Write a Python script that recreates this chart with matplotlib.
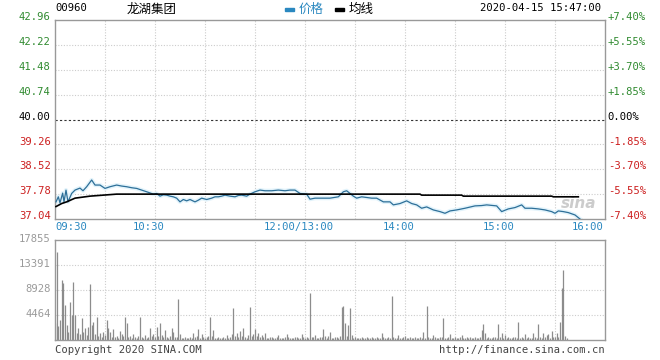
import matplotlib.pyplot as plt

plt.rcParams['font.family'] = ['DejaVu Sans Mono', 'Noto Sans CJK SC']

# --- data (x in trading minutes from 09:30, lunch break removed) ---
prev_close = 40.00
y_ticks = [37.04, 37.78, 38.52, 39.26, 40.00, 40.74, 41.48, 42.22, 42.96]
pct_labels = ['-7.40%', '-5.55%', '-3.70%', '-1.85%', '0.00%',
              '+1.85%', '+3.70%', '+5.55%', '+7.40%']
time_ticks = [0, 60, 150, 210, 270, 330]
time_labels = ['09:30', '10:30', '12:00/13:00', '14:00', '15:00', '16:00']

price_min = [0.6, 2, 3, 4.6, 5.4, 6.6, 7.8, 10, 12, 15, 16.8, 19, 22, 24, 27, 30,
             33, 37, 40, 43, 46, 49, 52, 55, 59, 61, 63, 65, 67, 69, 71, 73, 75,
             77, 79, 81, 84, 86, 88, 91, 94, 96, 98, 100, 102, 105, 108, 110, 112,
             115, 117, 120, 123, 126, 130, 134, 138, 141, 144, 147, 151, 153, 156,
             158, 162, 165, 170, 173, 175, 177, 179, 181, 184, 187, 190, 193, 197,
             201, 203, 207, 211, 214, 217, 220, 223, 227, 231, 234, 237, 241, 246,
             252, 256, 259, 265, 268, 272, 276, 280, 282, 286, 290, 294, 298, 300,
             302, 305, 308, 312, 315]
price_val = [37.55, 37.70, 37.52, 37.81, 37.55, 37.90, 37.55, 37.80, 37.90, 37.96,
             37.88, 38.00, 38.20, 38.05, 38.05, 37.95, 38.00, 38.05, 38.02, 38.00,
             37.97, 37.95, 37.90, 37.85, 37.78, 37.80, 37.72, 37.76, 37.75, 37.72,
             37.70, 37.66, 37.55, 37.62, 37.58, 37.62, 37.55, 37.60, 37.66, 37.62,
             37.66, 37.70, 37.70, 37.72, 37.75, 37.72, 37.70, 37.74, 37.75, 37.72,
             37.78, 37.85, 37.90, 37.88, 37.88, 37.90, 37.88, 37.90, 37.90, 37.80,
             37.78, 37.63, 37.66, 37.66, 37.66, 37.66, 37.70, 37.85, 37.88, 37.80,
             37.72, 37.66, 37.70, 37.68, 37.66, 37.66, 37.55, 37.55, 37.46, 37.50,
             37.58, 37.50, 37.46, 37.36, 37.40, 37.31, 37.26, 37.21, 37.28, 37.31,
             37.36, 37.43, 37.44, 37.46, 37.43, 37.26, 37.34, 37.38, 37.46, 37.36,
             37.36, 37.34, 37.31, 37.26, 37.21, 37.28, 37.26, 37.23, 37.16, 37.04]

avg_min = [0.6, 4, 7, 12, 18, 21, 29, 37, 219, 220, 244, 245, 298, 299, 314]
avg_val = [37.41, 37.50, 37.55, 37.66, 37.70, 37.72, 37.75, 37.78, 37.78, 37.75,
           37.75, 37.72, 37.72, 37.70, 37.70]

vol_ticks = [4464, 8928, 13391, 17855]
volume = [
    3000, 15770, 2500, 3570, 10700, 10120, 6250, 2700, 1500, 6840,
    4500, 10410, 4460, 1200, 2100, 1000, 3870, 1500, 2100, 900,
    2300, 9940, 2680, 3270, 1100, 4170, 700, 1200, 500, 1400,
    900, 3570, 2200, 1500, 600, 1900, 500, 800, 400, 1600,
    1100, 700, 4170, 2980, 600, 800, 300, 1000, 500, 400,
    700, 4170, 600, 300, 900, 400, 500, 2100, 800, 1000,
    600, 2300, 700, 2980, 900, 500, 1800, 600, 400, 800,
    2100, 1500, 600, 500, 7260, 1000, 400, 300, 500, 300,
    400, 600, 300, 1200, 500, 700, 2000, 400, 1000, 600,
    300, 500, 700, 4170, 800, 1800, 400, 300, 500, 300,
    400, 600, 300, 900, 400, 500, 1100, 5650, 700, 1300,
    500, 1600, 800, 2100, 600, 400, 900, 5950, 700, 1100,
    2000, 800, 1300, 600, 900, 500, 1200, 400, 300, 600,
    500, 300, 400, 500, 900, 300, 400, 300, 500, 1100,
    600, 300, 400, 300, 600, 500, 300, 400, 1000, 500,
    300, 600, 400, 8330, 600, 500, 900, 400, 300, 500,
    600, 1900, 700, 400, 800, 1500, 400, 300, 600, 500,
    400, 700, 5950, 6060, 2980, 800, 2700, 5770, 900, 400,
    500, 300, 400, 300, 500, 400, 300, 600, 300, 400,
    500, 300, 400, 600, 300, 400, 1300, 500, 300, 400,
    600, 300, 7860, 500, 400, 300, 900, 400, 300, 500,
    800, 400, 300, 500, 400, 300, 600, 400, 300, 500,
    400, 1400, 300, 6060, 500, 400, 300, 900, 500, 400,
    300, 600, 500, 3990, 400, 300, 500, 1100, 400, 300,
    600, 400, 300, 500, 900, 400, 300, 500, 400, 600,
    300, 400, 500, 300, 400, 500, 1800, 2800, 1300, 400,
    500, 300, 400, 600, 500, 300, 2800, 500, 1300, 400,
    900, 400, 500, 300, 400, 500, 600, 300, 3300, 400,
    500, 300, 1000, 400, 500, 300, 400, 1200, 500, 300,
    2790, 600, 400, 1300, 500, 900, 1100, 400, 1600, 600,
    500, 1200, 600, 3160, 9230, 12500, 700, 300,
]

GREEN = '#2f8a2f'
RED = '#cc1f1f'
GRID = '#cccccc'
EDGE = '#999999'

fig = plt.figure(figsize=(6.6, 3.6), dpi=100)
ax = fig.add_axes([55 / 660, 1 - 219 / 360, 550 / 660, 199 / 360])
axv = fig.add_axes([55 / 660, 1 - 340 / 360, 550 / 660, 100 / 360])

# --- price panel ---
ax.set_xlim(0, 330)
ax.set_ylim(y_ticks[0], y_ticks[-1])
for m in range(30, 330, 30):
    ax.axvline(m, color=GRID, lw=0.8, ls=(0, (1, 1.5)), zorder=1)
for v in y_ticks[1:-1]:
    if v == prev_close:
        ax.axhline(v, color='#333333', lw=0.8, ls=(0, (2, 2)), zorder=1)
    else:
        ax.axhline(v, color=GRID, lw=0.8, ls=(0, (1, 1.5)), zorder=1)

ax.plot(price_min, price_val, color='#e2f3fb', lw=3.0, zorder=2, solid_joinstyle='round')
ax.plot(price_min, price_val, color='#2d6f98', lw=0.9, zorder=3)
ax.plot(avg_min, avg_val, color='black', lw=1.2, zorder=4)

ax.set_xticks([])
ax.set_yticks([])
for s in ax.spines.values():
    s.set_color(EDGE)
    s.set_linewidth(1)

fs = 7.6
for v, p in zip(y_ticks, pct_labels):
    c = GREEN if v > prev_close else (RED if v < prev_close else 'black')
    ax.annotate(f'{v:.2f}', (0, v), xycoords=('axes fraction', 'data'),
                xytext=(-3, 2), textcoords='offset points', ha='right', va='center',
                fontsize=fs, color=c)
    ax.annotate(p, (1, v), xycoords=('axes fraction', 'data'),
                xytext=(2, 2), textcoords='offset points', ha='left', va='center',
                fontsize=fs, color=c)

for m, lab in zip(time_ticks, time_labels):
    if m == 0:
        ha, dx = 'left', 0
    elif m == 330:
        ha, dx = 'right', -1
    else:
        ha, dx = 'center', -4.5
    ax.annotate(lab, (m, 0), xycoords=('data', 'axes fraction'),
                xytext=(dx, -2), textcoords='offset points', ha=ha, va='top',
                fontsize=fs, color='#2a88c0')

# sina watermark
ax.text(0.985, 0.04, 'sina', transform=ax.transAxes, ha='right', va='bottom',
        fontsize=11, style='italic', weight='bold', color='#cccccc',
        family='DejaVu Sans', zorder=1)

# --- header ---
fig.text(55 / 660, 1 - 8 / 360, '00960', fontsize=7.6, ha='left', va='center')
fig.text(152 / 660, 1 - 9 / 360, '龙湖集团', fontsize=9, ha='center', va='center',
         family=['Noto Sans CJK SC', 'DejaVu Sans'])
fig.patches.append(plt.Rectangle((285 / 660, 1 - 11 / 360), 9 / 660, 3 / 360,
                                 transform=fig.transFigure, color='#2a88c0'))
fig.text(299 / 660, 1 - 9 / 360, '价格', fontsize=9, ha='left', va='center',
         color='#2a88c0', family=['Noto Sans CJK SC', 'DejaVu Sans'])
fig.patches.append(plt.Rectangle((335 / 660, 1 - 11 / 360), 9 / 660, 3 / 360,
                                 transform=fig.transFigure, color='black'))
fig.text(349 / 660, 1 - 9 / 360, '均线', fontsize=9, ha='left', va='center',
         color='black', family=['Noto Sans CJK SC', 'DejaVu Sans'])
fig.text(601 / 660, 1 - 8 / 360, '2020-04-15 15:47:00', fontsize=7.6,
         ha='right', va='center')

# --- volume panel ---
axv.set_xlim(0, 330)
axv.set_ylim(0, vol_ticks[-1])
for m in range(30, 330, 30):
    axv.axvline(m, color=GRID, lw=0.8, ls=(0, (1, 1.5)), zorder=1)
for v in vol_ticks[:-1]:
    axv.axhline(v, color=GRID, lw=0.8, ls=(0, (1, 1.5)), zorder=1)
axv.vlines(range(len(volume)), 0, volume, color='#8c8c8c', lw=0.9, zorder=2)
axv.set_xticks([])
axv.set_yticks([])
for s in axv.spines.values():
    s.set_color(EDGE)
    s.set_linewidth(1)
for v in vol_ticks:
    axv.annotate(str(v), (0, v), xycoords=('axes fraction', 'data'),
                 xytext=(-3, 1), textcoords='offset points', ha='right', va='center',
                 fontsize=fs, color='#9a9a9a')

fig.text(55 / 660, 1 - 350 / 360, 'Copyright 2020 SINA.COM', fontsize=7.6,
         ha='left', va='center', color='#444444')
fig.text(605 / 660, 1 - 350 / 360, 'http://finance.sina.com.cn', fontsize=7.6,
         ha='right', va='center', color='#444444')

fig.savefig('out.png', dpi=100, facecolor='white')
